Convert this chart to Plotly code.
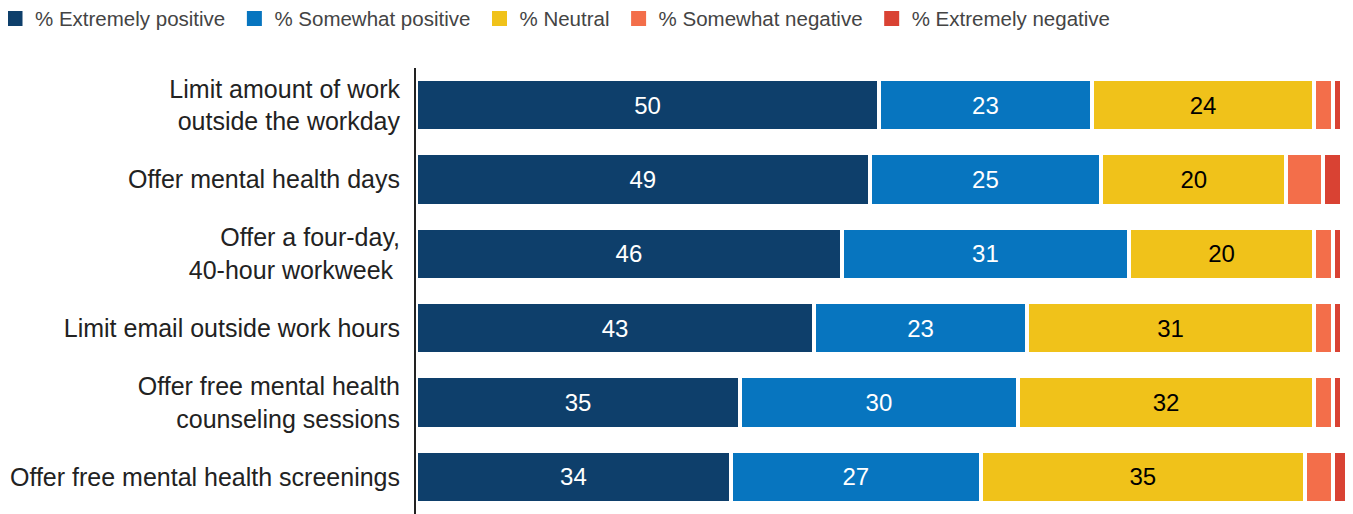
import plotly.graph_objects as go

categories = [
    "Limit amount of work<br>outside the workday",
    "Offer mental health days",
    "Offer a four-day,<br>40-hour workweek ",
    "Limit email outside work hours",
    "Offer free mental health<br>counseling sessions",
    "Offer free mental health screenings",
]
extremely_positive = [50, 49, 46, 43, 35, 34]
somewhat_positive = [23, 25, 31, 23, 30, 27]
neutral = [24, 20, 20, 31, 32, 35]
somewhat_negative = [2, 4, 2, 2, 2, 3]
extremely_negative = [1, 2, 1, 1, 1, 2]

series = [
    ("% Extremely positive", extremely_positive, "#0e3f6b", "white", True),
    ("% Somewhat positive", somewhat_positive, "#0775bf", "white", True),
    ("% Neutral", neutral, "#f0c21a", "black", True),
    ("% Somewhat negative", somewhat_negative, "#f36e4a", "white", False),
    ("% Extremely negative", extremely_negative, "#d94233", "white", False),
]

FONT = "Liberation Sans, Arial, sans-serif"

fig = go.Figure()
for name, vals, color, tcolor, show_text in series:
    fig.add_trace(go.Bar(
        name=name,
        y=categories,
        x=vals,
        orientation="h",
        showlegend=False,
        marker=dict(color=color, line=dict(color="white", width=4)),
        text=[str(v) for v in vals] if show_text else None,
        textposition="inside" if show_text else "none",
        insidetextanchor="middle",
        textangle=0,
        constraintext="none",
        textfont=dict(family=FONT, size=24, color=tcolor),
    ))

# legend entries (solid swatches without the white separator outline)
for i, (name, vals, color, tcolor, show_text) in enumerate(series):
    label = name if i == len(series) - 1 else name + "\u2009"
    fig.add_trace(go.Bar(
        name=label,
        y=[categories[0]],
        x=[None],
        orientation="h",
        marker=dict(color=color, line=dict(color=color, width=3)),
        showlegend=True,
    ))

fig.update_layout(
    barmode="stack",
    bargap=0.3,
    width=1345,
    height=506,
    margin=dict(l=408, r=0, t=60, b=0, autoexpand=False),
    paper_bgcolor="white",
    plot_bgcolor="white",
    font=dict(family=FONT, color="#222222"),
    showlegend=True,
    legend=dict(
        orientation="h",
        xref="paper", yref="paper",
        x=-0.4493, y=1.1556, xanchor="left", yanchor="top",
        font=dict(size=20.5, color="#444444"),
        traceorder="normal",
        itemclick=False,
        bgcolor="rgba(0,0,0,0)",
    ),
    xaxis=dict(
        range=[0, 101.2],
        showgrid=False, zeroline=False, showticklabels=False, showline=False,
    ),
    yaxis=dict(
        autorange="reversed",
        showgrid=False, zeroline=False,
        showline=True, linecolor="#222222", linewidth=2,
        ticks="", ticklabelstandoff=9,
        tickfont=dict(size=25, color="#222222"),
    ),
)

fig.write_html("out.html")
